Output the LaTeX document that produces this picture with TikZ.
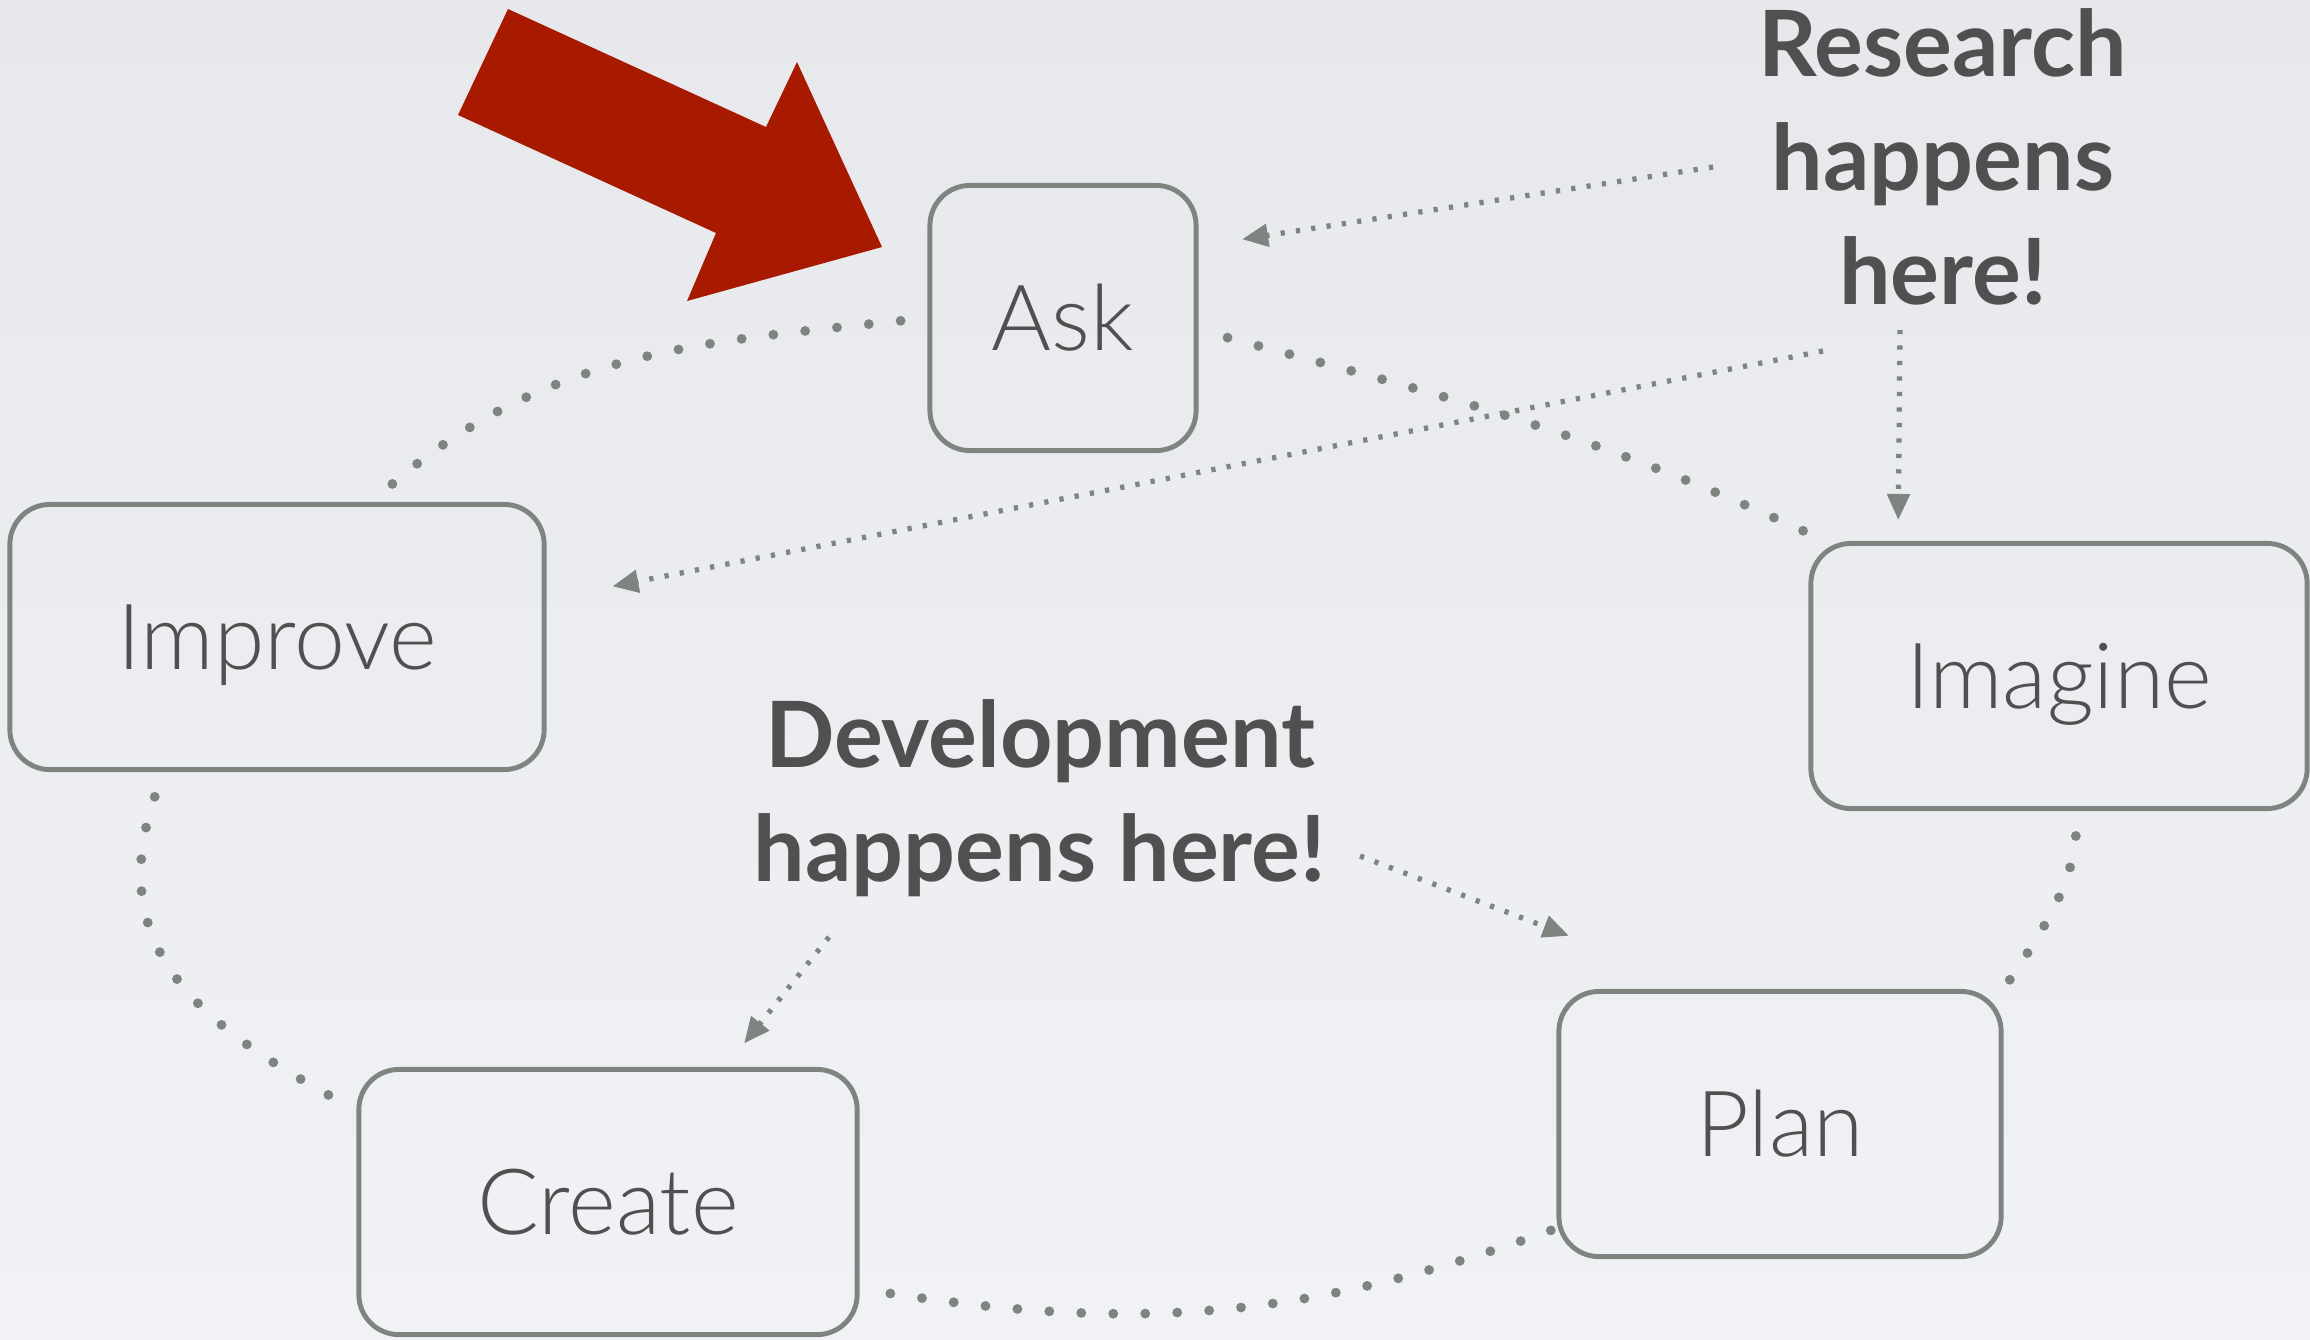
\documentclass[tikz,border=0pt]{standalone}
\usepackage{fontspec}
\setmainfont{Lato}[UprightFont=* Light, BoldFont=* Bold]
\usetikzlibrary{arrows.meta}
\definecolor{haiiro}{HTML}{7E8581}
\definecolor{sumi}{HTML}{505050}
\definecolor{aka}{HTML}{A81A00}
\definecolor{kiri}{HTML}{E6E8EC}
\definecolor{yuki}{HTML}{F1F2F5}

\begin{document}
\begin{tikzpicture}[x=0.01cm, y=0.01cm,
    stage/.style={draw=haiiro, line width=1.4pt, rounded corners=0.4cm, minimum height=2.65cm,
        inner sep=0pt, text height=18.6pt, text depth=0pt, text=sumi, font=\fontsize{26}{30}\selectfont},
    ring/.style={draw=haiiro, line width=2.8pt, line cap=round, dash pattern=on 0pt off 9.1pt},
    hint/.style={draw=haiiro, line width=1.5pt, dash pattern=on 1.2pt off 3.2pt,
        -{Triangle[length=7.4pt, width=6.3pt]}},
    shout/.style={text=sumi, font=\bfseries\fontsize{26}{32.4}\selectfont, align=center, inner sep=0pt}]
    \shade[top color=kiri, bottom color=yuki] (0, 0) rectangle (2310, -1339);
    \useasboundingbox (0, 0) rectangle (2310, -1339);

    % big red pointer
    \fill[aka] (508, -9) -- (766, -127) -- (797, -62) -- (882, -247) -- (687, -301) -- (716, -233) -- (458, -115) -- cycle;

    % stages
    \foreach \name / \x / \y / \w / \txt in {ask/1063/-318/2.66cm/Ask, improve/277/-637/5.34cm/Improve,
        imagine/2059/-676/4.96cm/Imagine, plan/1780/-1124/4.42cm/Plan, create/608/-1202/4.98cm/Create}
        \node[stage, minimum width=\w] (\name) at (\x, \y) {\txt};

    % the loop
    \draw[ring, shorten <=0.27cm, shorten >=0.22cm] (ask.west) to[out=186, in=41] (improve.55);
    \draw[ring, shorten <=0.3cm, shorten >=0.02cm] (ask.-5) to[out=-15, in=155] (imagine.150);
    \draw[ring, shorten <=0.25cm, shorten >=0.02cm] (imagine.-82) to[out=-95, in=56] (plan.north east);
    \draw[ring, shorten <=0.06cm, shorten >=0.18cm] (plan.205) to[out=200, in=-9] (create.-19);
    \draw[ring, shorten <=0.32cm, shorten >=0.2cm] (create.160) to[out=151, in=250, looseness=1.2] (improve.230);

    % labels
    \node[shout] (research) at (1943, -157) {Research\\happens\\here!};
    \node[shout] (develop) at (1040, -798) {Development\\happens here!};

    \coordinate (r1) at (1713, -167);
    \coordinate (r2) at (1823, -351);
    \coordinate (r3) at (1900, -330);
    \coordinate (d1) at (1360, -856);
    \coordinate (d2) at (829, -937);

    \draw[hint, shorten >=0.44cm] (r1) -- (ask.28);
    \draw[hint, shorten >=0.67cm] (r2) -- (improve.8);
    \draw[hint, shorten >=0.21cm] (r3) -- (imagine.140);
    \draw[hint, shorten >=1.49cm] (d1) -- (plan.118);
    \draw[hint, shorten >=0.30cm] (d2) -- (create.49);
\end{tikzpicture}
\end{document}
